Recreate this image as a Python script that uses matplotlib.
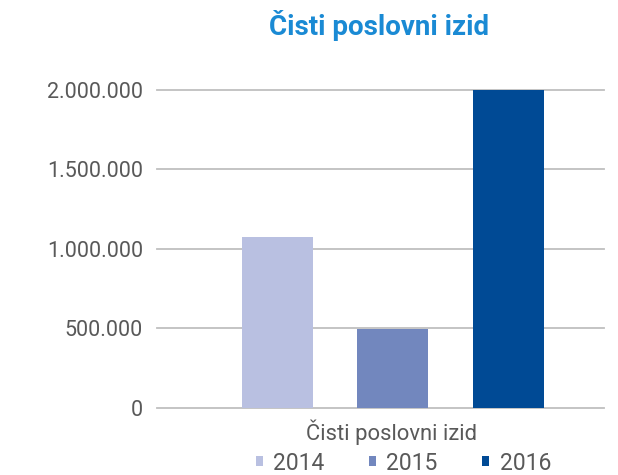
import numpy as np
import matplotlib
matplotlib.use('agg')
import matplotlib.pyplot as plt
from matplotlib.ticker import FuncFormatter

plt.rcParams['font.family'] = ['Roboto', 'DejaVu Sans']

years = ['2014', '2015', '2016']
values = [1075000, 497000, 2000000]
colors = ['#b9c0e1', '#7287be', '#004a95']
category = 'Čisti poslovni izid'

fig = plt.figure(figsize=(6.18, 4.75), dpi=100)
ax = fig.add_axes([0.2536, 0.1417, 0.7237, 0.6688])

x = np.arange(len(years))
for xi, v, c, lab in zip(x, values, colors, years):
    ax.bar(xi, v, 0.615, color=c, label=lab, zorder=3)

ax.set_xlim(-1.044, 2.827)
ax.set_ylim(0, 2000000)
ax.set_yticks([0, 500000, 1000000, 1500000, 2000000])
ax.yaxis.set_major_formatter(FuncFormatter(lambda v, p: f'{int(v):,}'.replace(',', '.')))
ax.set_xticks([])
ax.tick_params(axis='y', length=0, pad=10, labelsize=15.5, labelcolor='#595959')
for s in ax.spines.values():
    s.set_visible(False)
ax.yaxis.grid(True, color='#bfbfbf', linewidth=1.3, zorder=0)
for line in ax.get_ygridlines():
    line.set_clip_on(False)

# category label sits under the bar group
fig.text(392 / 618, 1 - 432 / 475, category, ha='center', va='center',
         fontsize=15.8, color='#595959')
fig.text(0.6133, 0.926, category, ha='center', va='baseline',
         fontsize=20, fontweight='bold', color='#1a8ad4')

fig.legend(*ax.get_legend_handles_labels(), loc='center',
           bbox_to_anchor=(403.5 / 618, 1 - 463 / 475), ncol=3, frameon=False,
           fontsize=16.5, labelcolor='#595959', handlelength=0.3, handleheight=0.3,
           handletextpad=0.45, columnspacing=1.95, borderaxespad=0, borderpad=0)

fig.savefig('out.png', dpi=100)
